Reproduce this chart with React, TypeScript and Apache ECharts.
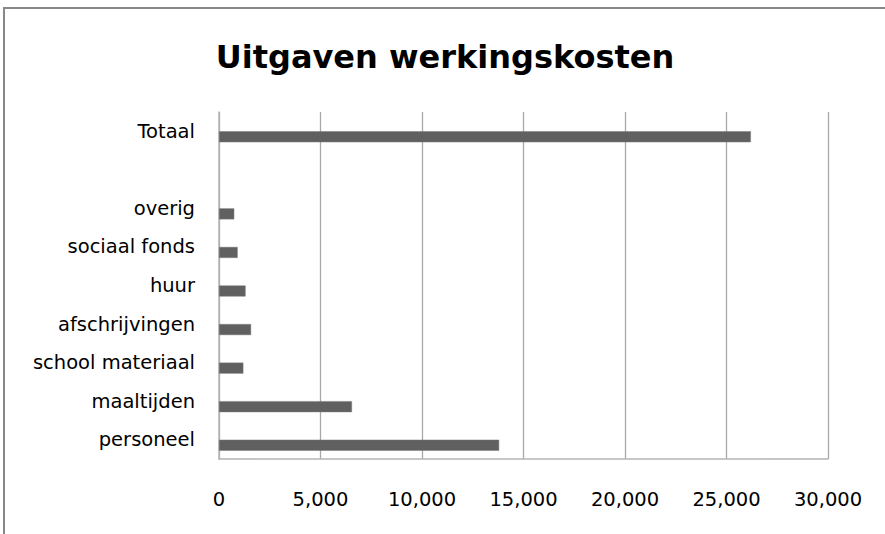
import React, { useEffect, useRef } from "react";
import * as echarts from "echarts";

const categories = [
  "personeel",
  "maaltijden",
  "school materiaal",
  "afschrijvingen",
  "huur",
  "sociaal fonds",
  "overig",
  "",
  "Totaal",
];
const uitgaven = [13800, 6550, 1200, 1580, 1310, 920, 750, null, 26200];
const leeg = [null, null, null, null, null, null, null, null, null];
const xTicks = [0, 5000, 10000, 15000, 20000, 25000, 30000];
const titleText = "Uitgaven werkingskosten";

export default function App() {
  const ref = useRef<HTMLDivElement>(null);
  useEffect(() => {
    if (!ref.current) return;
    const chart = echarts.init(ref.current, undefined, { renderer: "svg" });
    chart.setOption({
      animation: false,
      backgroundColor: "#ffffff",
      title: {
        text: titleText,
        left: 440,
        textAlign: "center",
        top: 37,
        textStyle: {
          fontFamily: "DejaVu Sans",
          fontWeight: "bold",
          fontSize: 32,
          lineHeight: 30,
          color: "#000000",
        },
      },
      graphic: [
        {
          type: "rect",
          shape: { x: 4, y: 8, width: 1000, height: 700 },
          style: { fill: "none", stroke: "#888888", lineWidth: 2 },
          silent: true,
        },
      ],
      grid: { left: 219, right: 57, top: 112, bottom: 75, containLabel: false },
      xAxis: {
        type: "value",
        min: xTicks[0],
        max: xTicks[xTicks.length - 1],
        interval: 5000,
        axisLine: { show: true, lineStyle: { color: "#b4b4b4", width: 1.5 } },
        axisTick: { show: false },
        splitLine: { show: true, lineStyle: { color: "#a8a8a8", width: 1.3 } },
        axisLabel: {
          margin: 30,
          fontFamily: "DejaVu Sans",
          fontSize: 19.5,
          lineHeight: 20,
          color: "#000000",
          formatter: (v: number) => v.toLocaleString("en-US"),
        },
      },
      yAxis: {
        type: "category",
        data: categories,
        axisLine: { show: true, lineStyle: { color: "#b4b4b4", width: 1.5 } },
        axisTick: { show: false },
        splitLine: { show: false },
        axisLabel: {
          margin: 24,
          fontFamily: "DejaVu Sans",
          fontSize: 19.5,
          color: "#000000",
          interval: 0,
        },
      },
      series: [
        {
          name: "leeg",
          type: "bar",
          data: leeg,
          barWidth: 11,
          barGap: "0%",
        },
        {
          name: "uitgaven",
          type: "bar",
          data: uitgaven,
          barWidth: 11,
          barGap: "0%",
          itemStyle: { color: "#606060", borderColor: "#7a7a7a", borderWidth: 0.5 },
        },
      ],
    });
    return () => chart.dispose();
  }, []);
  return (
    <div
      ref={ref}
      style={{ position: "fixed", left: 0, top: 0, width: 885, height: 534 }}
    />
  );
}
